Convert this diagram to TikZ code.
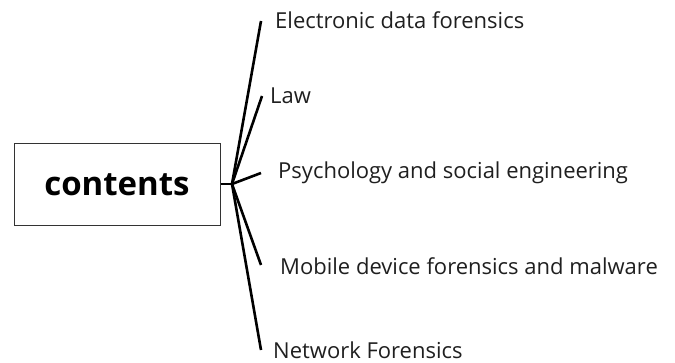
\documentclass[tikz,border=0pt]{standalone}
\usepackage{fontspec}
\setmainfont{Open Sans}
\begin{document}
\begin{tikzpicture}[x=1pt,y=-1pt,
  branch/.style={line width=2.6pt},
  leaf/.style={anchor=base west,inner sep=0pt,text=black!88,font=\fontsize{22}{24}\selectfont},
  rootbox/.style={draw=black!80,line width=1pt,minimum width=206pt,minimum height=82pt,font=\fontsize{33}{36}\selectfont\bfseries}]
\useasboundingbox (0,0) rectangle (675,363);
\node[rootbox] (root) at (117,185) {contents};
\coordinate (j) at (232,184);
\coordinate (e1) at (261,21);
\coordinate (e2) at (262,96);
\coordinate (e3) at (261,173);
\coordinate (e4) at (261,265);
\coordinate (e5) at (261,350);
\draw[branch] (root.east |- j) -- (j);
\foreach \i in {1,...,5} \draw[branch] (j) -- (e\i);
\node[leaf] (t1) at (275,29) {Electronic data forensics};
\node[leaf] (t2) at (270,104) {Law};
\node[leaf] (t3) at (278,179) {Psychology and social engineering};
\node[leaf] (t4) at (280,275) {Mobile device forensics and malware};
\node[leaf] (t5) at (273,359) {Network Forensics};
\end{tikzpicture}
\end{document}
